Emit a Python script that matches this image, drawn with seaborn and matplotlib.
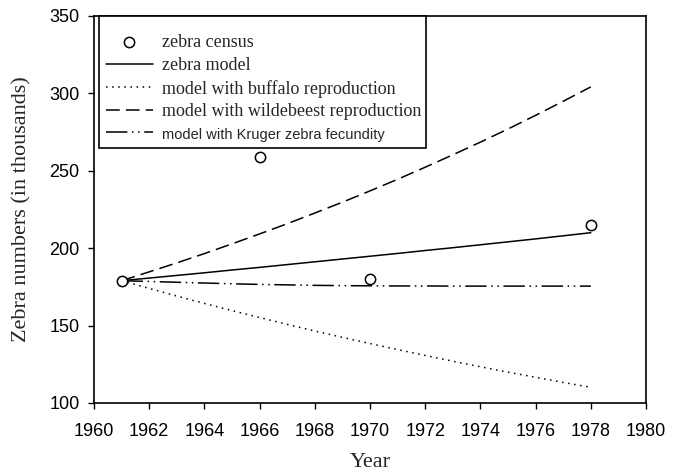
import matplotlib
matplotlib.use("Agg")
import matplotlib.pyplot as plt
from matplotlib.patches import Rectangle
import seaborn as sns

census_years = [1961, 1966, 1970, 1978]
census_values = [179, 259, 180, 215]

model_years = list(range(1961, 1979))
zebra_model = [179.0, 180.7, 182.4, 184.1, 185.9, 187.6, 189.4, 191.2, 193.0,
               194.8, 196.6, 198.5, 200.3, 202.2, 204.1, 206.0, 208.0, 210.0]
buffalo_model = [179.0, 174.0, 169.1, 164.3, 159.7, 155.2, 150.8, 146.5, 142.4,
                 138.4, 134.5, 130.7, 127.0, 123.4, 119.9, 116.6, 113.3, 110.1]
wildebeest_model = [179.0, 184.7, 190.5, 196.5, 202.8, 209.2, 215.8, 222.7, 229.7,
                    237.0, 244.5, 252.3, 260.3, 268.5, 277.0, 285.8, 294.9, 304.2]
kruger_model = [179.0, 178.5, 178.0, 177.5, 177.0, 176.6, 176.3, 176.0, 175.8,
                175.7, 175.6, 175.6, 175.5, 175.5, 175.5, 175.5, 175.5, 175.5]

labels = ["zebra census", "zebra model", "model with buffalo reproduction",
          "model with wildebeest reproduction", "model with Kruger zebra fecundity"]

sns.set_style("ticks")
plt.rcParams["font.family"] = ["Liberation Sans", "DejaVu Sans"]

fig = plt.figure(figsize=(6.78, 4.74), dpi=100)
ax = fig.add_axes([0.1386, 0.1498, 0.8142, 0.8165])

lw = 1.1
sns.lineplot(x=model_years, y=zebra_model, ax=ax, color="black", lw=lw,
             linestyle="-", label=labels[1])
sns.lineplot(x=model_years, y=buffalo_model, ax=ax, color="black", lw=lw,
             linestyle=(0, (1, 3)), label=labels[2])
sns.lineplot(x=model_years, y=wildebeest_model, ax=ax, color="black", lw=lw,
             linestyle=(0, (9, 4)), label=labels[3])
sns.lineplot(x=model_years, y=kruger_model, ax=ax, color="black", lw=lw,
             linestyle=(0, (14, 3, 1, 3, 1, 3)), label=labels[4])
sns.scatterplot(x=census_years, y=census_values, ax=ax, marker="o", s=55,
                facecolor="white", edgecolor="black", linewidth=1.1,
                label=labels[0], zorder=5)

ax.set_xlim(1960, 1980)
ax.set_ylim(100, 350)
ax.set_xticks(range(1960, 1981, 2))
ax.set_yticks(range(100, 351, 50))
ax.tick_params(direction="out", length=4.5, width=1, labelsize=13, colors="black")
ax.tick_params(axis="x", pad=10)
ax.tick_params(axis="y", pad=6)
for sp in ax.spines.values():
    sp.set_visible(True)
    sp.set_color("black")
    sp.set_linewidth(1.2)

ax.set_xlabel("Year", fontsize=16, family=["Liberation Serif"], labelpad=9)
ax.set_ylabel("Zebra numbers (in thousands)", fontsize=16,
              family=["Liberation Serif"], labelpad=13)

# legend frame
ax.add_patch(Rectangle((0.00906, 0.659), 0.5924, 0.341, transform=ax.transAxes,
                       facecolor="white", edgecolor="black", linewidth=1.2,
                       zorder=8, clip_on=False))

handles, labs = ax.get_legend_handles_labels()
order = [labs.index(l) for l in labels]
leg = ax.legend([handles[i] for i in order], [labs[i] for i in order],
                loc="upper left", bbox_to_anchor=(0.0217, 0.953), borderaxespad=0,
                frameon=False,
                prop={"family": "Liberation Serif", "size": 13},
                handlelength=2.6, handletextpad=0.5, labelspacing=0.32,
                borderpad=0)
leg.set_zorder(9)
leg.texts[-1].set_fontfamily("Liberation Sans")
leg.texts[-1].set_fontsize(10.5)

fig.savefig("out.png", dpi=100)
